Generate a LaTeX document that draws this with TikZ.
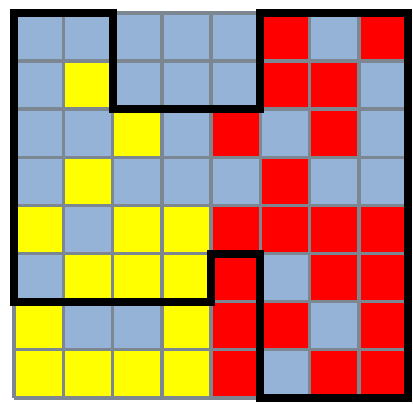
\documentclass[tikz,border=0pt]{standalone}
\definecolor{bl}{RGB}{149,179,215}
\definecolor{rd}{RGB}{255,0,0}
\definecolor{yl}{RGB}{255,255,0}
\definecolor{gridgray}{RGB}{125,135,145}
\tikzset{
  cellB/.style={fill=bl},
  cellR/.style={fill=rd},
  cellY/.style={fill=yl},
  gridline/.style={draw=gridgray,line width=3.5pt},
  region/.style={draw=black,line width=8pt,line join=miter}
}
\begin{document}
\begin{tikzpicture}[x={(49.25pt,0)},y={(0,-48.1pt)}]
\useasboundingbox[fill=white] (-0.2843,-0.2703) rectangle (8.1015,8.1289);
\foreach \r/\row in {0/{B,B,B,B,B,R,B,R},1/{B,Y,B,B,B,R,R,B},2/{B,B,Y,B,R,B,R,B},3/{B,Y,B,B,B,R,B,B},4/{Y,B,Y,Y,R,R,R,R},5/{B,Y,Y,Y,R,B,R,R},6/{Y,B,B,Y,R,R,B,R},7/{Y,Y,Y,Y,R,B,R,R}}{
  \foreach \k [count=\c from 0] in \row {
    \path[cell\k] (\c,\r) rectangle ++(1,1);
  }
}
\foreach \i in {0,...,8}{
  \draw[gridline] (\i,0) -- (\i,8);
  \draw[gridline] (0,\i) -- (8,\i);
}
\draw[region] (0,0) -- (2,0) -- (2,2) -- (5,2) -- (5,0) -- (8,0) -- (8,8) -- (5,8) -- (5,5) -- (4,5) -- (4,6) -- (0,6) -- cycle;
\end{tikzpicture}
\end{document}
